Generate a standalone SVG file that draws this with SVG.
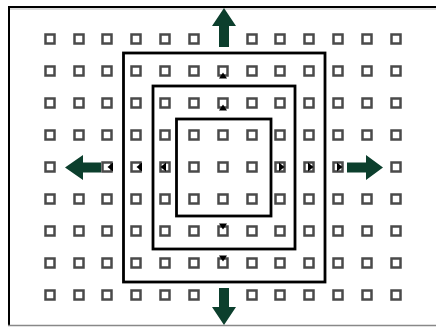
<svg xmlns="http://www.w3.org/2000/svg" width="436" height="327" viewBox="0 0 436 327">
<defs>
<style>
.sq{fill:#fff;stroke:#4a4a4a;stroke-width:2.5}
.frame{fill:none;stroke:#000;stroke-width:2.8}
.arr{fill:#0c3f2d}
.tri{fill:#000}
</style>
<rect id="s" x="-4.5" y="-4.5" width="9" height="9" class="sq"/>
</defs>
<rect width="436" height="327" fill="#fff"/>
<g id="border">
<line x1="8" y1="7" x2="436" y2="7" stroke="#000" stroke-width="2"/>
<line x1="8" y1="9" x2="436" y2="9" stroke="#bbb" stroke-width="1"/>
<line x1="9" y1="6" x2="9" y2="326" stroke="#000" stroke-width="2"/>
<line x1="8" y1="325.5" x2="436" y2="325.5" stroke="#888" stroke-width="1.5"/>
</g>
<g id="grid">
<use href="#s" x="50" y="39"/><use href="#s" x="79" y="39"/><use href="#s" x="107" y="39"/><use href="#s" x="136" y="39"/><use href="#s" x="165" y="39"/><use href="#s" x="194" y="39"/><use href="#s" x="252" y="39"/><use href="#s" x="280" y="39"/><use href="#s" x="309" y="39"/><use href="#s" x="338" y="39"/><use href="#s" x="367" y="39"/><use href="#s" x="396" y="39"/>
<use href="#s" x="50" y="71"/><use href="#s" x="79" y="71"/><use href="#s" x="107" y="71"/><use href="#s" x="136" y="71"/><use href="#s" x="165" y="71"/><use href="#s" x="194" y="71"/><use href="#s" x="223" y="71"/><use href="#s" x="252" y="71"/><use href="#s" x="280" y="71"/><use href="#s" x="309" y="71"/><use href="#s" x="338" y="71"/><use href="#s" x="367" y="71"/><use href="#s" x="396" y="71"/>
<use href="#s" x="50" y="103"/><use href="#s" x="79" y="103"/><use href="#s" x="107" y="103"/><use href="#s" x="136" y="103"/><use href="#s" x="165" y="103"/><use href="#s" x="194" y="103"/><use href="#s" x="223" y="103"/><use href="#s" x="252" y="103"/><use href="#s" x="280" y="103"/><use href="#s" x="309" y="103"/><use href="#s" x="338" y="103"/><use href="#s" x="367" y="103"/><use href="#s" x="396" y="103"/>
<use href="#s" x="50" y="135"/><use href="#s" x="79" y="135"/><use href="#s" x="107" y="135"/><use href="#s" x="136" y="135"/><use href="#s" x="165" y="135"/><use href="#s" x="194" y="135"/><use href="#s" x="223" y="135"/><use href="#s" x="252" y="135"/><use href="#s" x="280" y="135"/><use href="#s" x="309" y="135"/><use href="#s" x="338" y="135"/><use href="#s" x="367" y="135"/><use href="#s" x="396" y="135"/>
<use href="#s" x="50" y="167"/><use href="#s" x="107" y="167"/><use href="#s" x="136" y="167"/><use href="#s" x="165" y="167"/><use href="#s" x="194" y="167"/><use href="#s" x="223" y="167"/><use href="#s" x="252" y="167"/><use href="#s" x="280" y="167"/><use href="#s" x="309" y="167"/><use href="#s" x="338" y="167"/><use href="#s" x="396" y="167"/>
<use href="#s" x="50" y="199"/><use href="#s" x="79" y="199"/><use href="#s" x="107" y="199"/><use href="#s" x="136" y="199"/><use href="#s" x="165" y="199"/><use href="#s" x="194" y="199"/><use href="#s" x="223" y="199"/><use href="#s" x="252" y="199"/><use href="#s" x="280" y="199"/><use href="#s" x="309" y="199"/><use href="#s" x="338" y="199"/><use href="#s" x="367" y="199"/><use href="#s" x="396" y="199"/>
<use href="#s" x="50" y="231"/><use href="#s" x="79" y="231"/><use href="#s" x="107" y="231"/><use href="#s" x="136" y="231"/><use href="#s" x="165" y="231"/><use href="#s" x="194" y="231"/><use href="#s" x="223" y="231"/><use href="#s" x="252" y="231"/><use href="#s" x="280" y="231"/><use href="#s" x="309" y="231"/><use href="#s" x="338" y="231"/><use href="#s" x="367" y="231"/><use href="#s" x="396" y="231"/>
<use href="#s" x="50" y="263"/><use href="#s" x="79" y="263"/><use href="#s" x="107" y="263"/><use href="#s" x="136" y="263"/><use href="#s" x="165" y="263"/><use href="#s" x="194" y="263"/><use href="#s" x="223" y="263"/><use href="#s" x="252" y="263"/><use href="#s" x="280" y="263"/><use href="#s" x="309" y="263"/><use href="#s" x="338" y="263"/><use href="#s" x="367" y="263"/><use href="#s" x="396" y="263"/>
<use href="#s" x="50" y="295"/><use href="#s" x="79" y="295"/><use href="#s" x="107" y="295"/><use href="#s" x="136" y="295"/><use href="#s" x="165" y="295"/><use href="#s" x="194" y="295"/><use href="#s" x="252" y="295"/><use href="#s" x="280" y="295"/><use href="#s" x="309" y="295"/><use href="#s" x="338" y="295"/><use href="#s" x="367" y="295"/><use href="#s" x="396" y="295"/>
</g>
<g id="markers">
<polygon class="tri" points="223,72.5 219,78.5 227,78.5"/>
<polygon class="tri" points="223,104.5 219,110.5 227,110.5"/>
<polygon class="tri" points="223,229.5 219,223.5 227,223.5"/>
<polygon class="tri" points="223,261.5 219,255.5 227,255.5"/>
<polygon class="tri" points="107.5,167 113,162.5 113,171.5"/>
<polygon class="tri" points="136.5,167 142,162.5 142,171.5"/>
<polygon class="tri" points="160.5,167 166,162.5 166,171.5"/>
<polygon class="tri" points="284.5,167 279,162.5 279,171.5"/>
<polygon class="tri" points="313.5,167 308,162.5 308,171.5"/>
<polygon class="tri" points="342.5,167 337,162.5 337,171.5"/>
</g>
<g id="rects">
<rect id="outer" class="frame" x="123.5" y="53" width="201.5" height="229"/>
<rect id="middle" class="frame" x="153" y="86" width="142" height="163"/>
<rect id="inner" class="frame" x="176.5" y="119" width="94.5" height="97"/>
</g>
<g id="arrows">
<polygon id="up" class="arr" points="224,8 236,26 229,26 229,47 219,47 219,26 212,26"/>
<polygon id="down" class="arr" points="224,325 236,307 229,307 229,288 219,288 219,307 212,307"/>
<polygon id="left" class="arr" points="65,167.5 83,155 83,162.5 101,162.5 101,172.5 83,172.5 83,180"/>
<polygon id="right" class="arr" points="383,167.5 366,155 366,162.5 347,162.5 347,172.5 366,172.5 366,180"/>
</g>
</svg>
